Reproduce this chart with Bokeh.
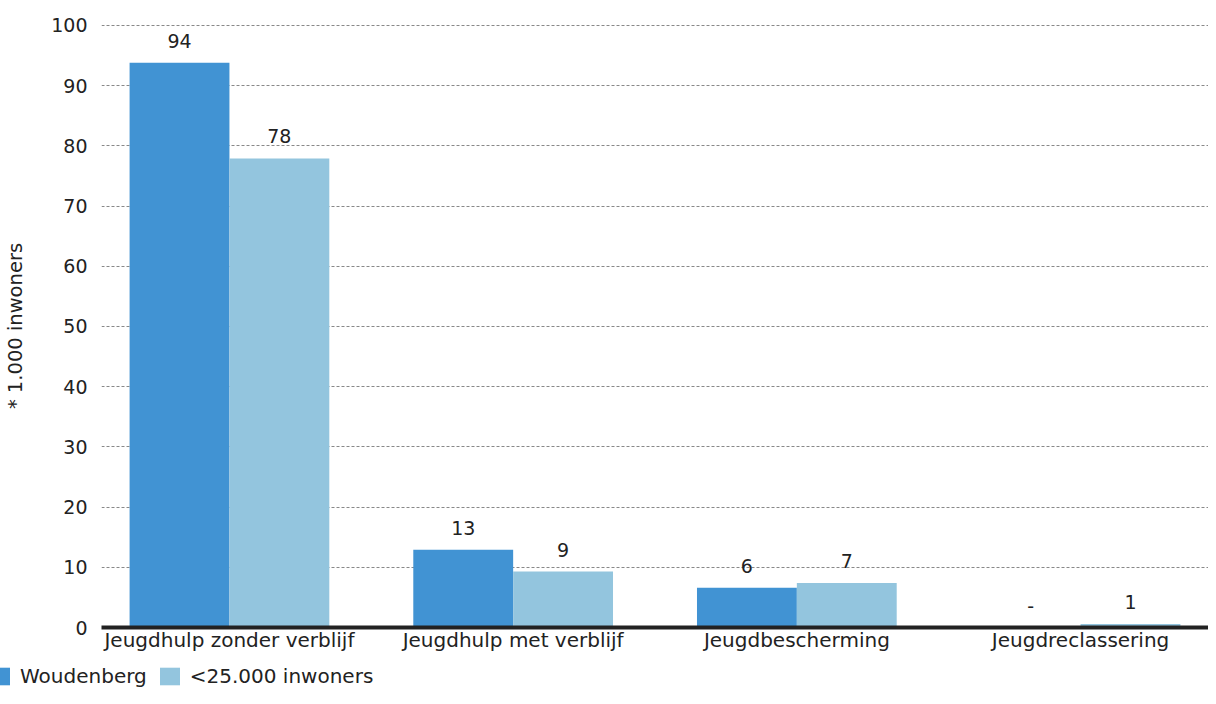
from bokeh.plotting import figure
from bokeh.layouts import column
from bokeh.models import (ColumnDataSource, FactorRange, Range1d, FixedTicker,
                          LabelSet, Legend, LegendItem)
from bokeh.core.properties import value
from bokeh.transform import dodge
from bokeh.embed import file_html
from bokeh.resources import INLINE

categories = ["Jeugdhulp zonder verblijf", "Jeugdhulp met verblijf",
              "Jeugdbescherming", "Jeugdreclassering"]
series_names = ["Woudenberg", "<25.000 inwoners"]
woudenberg = [93.8, 12.9, 6.6, 0.0]
kleine_gemeenten = [77.9, 9.3, 7.4, 0.6]
woudenberg_labels = ["94", "13", "6", "-"]
kleine_labels = ["78", "9", "7", "1"]
y_ticks = [0, 10, 20, 30, 40, 50, 60, 70, 80, 90, 100]
y_axis_label = "* 1.000 inwoners"

FONT = "DejaVu Sans"
TXT = "#222222"
C1 = "#4193D3"
C2 = "#93C5DE"

src = ColumnDataSource(dict(cat=categories, w=woudenberg, k=kleine_gemeenten,
                            wl=woudenberg_labels, kl=kleine_labels))

xr = FactorRange(*categories, range_padding=-0.049, range_padding_units="absolute")

p = figure(width=1208, height=660, output_backend="svg", toolbar_location=None,
           x_range=xr, y_range=Range1d(0, 100.15),
           min_border_top=24, min_border_left=101, min_border_right=0,
           min_border_bottom=33)
p.frame_align = False
p.outline_line_color = None
p.background_fill_color = "white"
p.border_fill_color = "white"

OFF = 0.176
BW = 0.352
r1 = p.vbar(x=dodge("cat", -OFF, range=p.x_range), top="w", width=BW,
            source=src, fill_color=C1, line_color=None)
r2 = p.vbar(x=dodge("cat", OFF, range=p.x_range), top="k", width=BW,
            source=src, fill_color=C2, line_color=None)

for xoff, col, ycol in [(-OFF, "wl", "w"), (OFF, "kl", "k")]:
    p.add_layout(LabelSet(x=dodge("cat", xoff, range=p.x_range), y=ycol, text=col,
                          source=src, y_offset=15, text_align="center",
                          text_baseline="alphabetic", text_font=value(FONT),
                          text_font_size="19px", text_color=TXT))

# y axis
p.yaxis.ticker = FixedTicker(ticks=y_ticks)
p.yaxis.axis_line_color = None
p.yaxis.major_tick_line_color = None
p.yaxis.minor_tick_line_color = None
p.yaxis.major_label_standoff = 8
p.yaxis.major_label_text_font = FONT
p.yaxis.major_label_text_font_size = "19px"
p.yaxis.major_label_text_color = TXT
p.yaxis.axis_label = y_axis_label
p.yaxis.axis_label_text_font = FONT
p.yaxis.axis_label_text_font_size = "19.5px"
p.yaxis.axis_label_text_font_style = "normal"
p.yaxis.axis_label_text_color = TXT
p.yaxis.axis_label_standoff = 21

# x axis
p.xaxis.axis_line_color = "#222222"
p.xaxis.axis_line_width = 4
p.xaxis.major_tick_line_color = None
p.xaxis.minor_tick_line_color = None
p.xaxis.major_tick_out = 0
p.xaxis.major_tick_in = 0
p.xaxis.major_label_standoff = 0
p.xaxis.major_label_text_font = FONT
p.xaxis.major_label_text_font_size = "20px"
p.xaxis.major_label_text_color = TXT

p.xgrid.grid_line_color = None
p.ygrid.grid_line_color = "#888888"
p.ygrid.grid_line_dash = "3 2"
p.ygrid.grid_line_width = 1

# legend strip below the chart (its bars fall far outside its visible y range)
lf = figure(width=1208, height=28, output_backend="svg", toolbar_location=None,
            x_range=xr, y_range=Range1d(1000, 1001),
            x_axis_location=None, y_axis_location=None,
            min_border=0, min_border_left=0, min_border_right=0,
            min_border_top=0, min_border_bottom=0)
lf.frame_align = False
lf.grid.visible = False
lf.outline_line_color = None
lf.background_fill_color = "white"
lf.border_fill_color = "white"
l1 = lf.vbar(x=dodge("cat", -OFF, range=xr), top="w", width=BW, source=src,
             fill_color=C1, line_color=None)
l2 = lf.vbar(x=dodge("cat", OFF, range=xr), top="k", width=BW, source=src,
             fill_color=C2, line_color=None)
legend = Legend(items=[LegendItem(label=series_names[0], renderers=[l1]),
                       LegendItem(label=series_names[1], renderers=[l2])],
                location=(-13, 0), orientation="horizontal",
                glyph_width=25, glyph_height=22, label_standoff=8, spacing=10,
                padding=0, margin=0, border_line_color=None,
                background_fill_alpha=0, label_text_font=FONT,
                label_text_font_size="20px", label_text_color=TXT)
lf.add_layout(legend)

open("out.html", "w").write(file_html(column(p, lf), INLINE))
